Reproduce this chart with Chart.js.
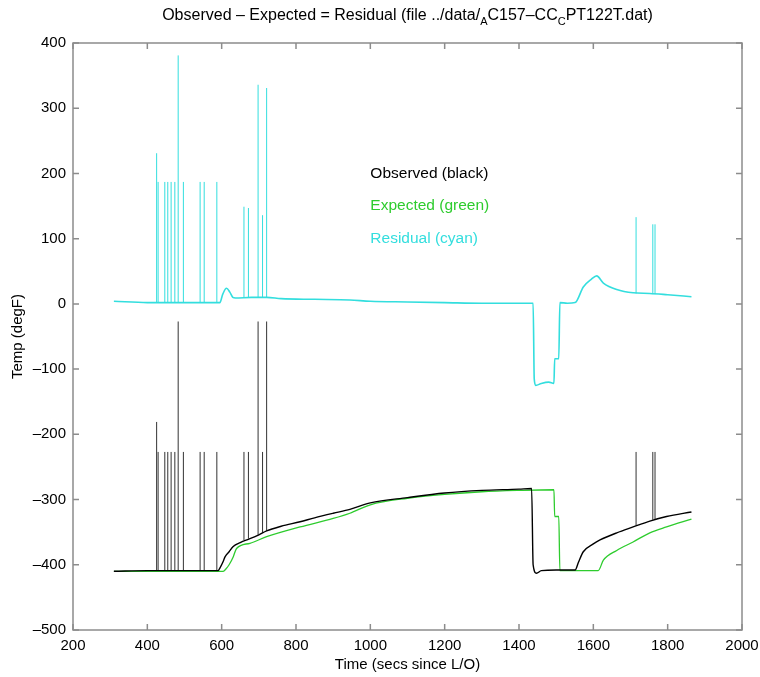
<!DOCTYPE html>
<html lang="en">
<head>
<meta charset="UTF-8">
<title>Observed - Expected = Residual</title>
<style>
  body { margin:0; padding:0; background:#fff; }
  #wrap { width:760px; height:677px; }
</style>
</head>
<body>
<div id="wrap"><canvas id="chart" width="760" height="677"></canvas></div>

<script src="https://cdn.jsdelivr.net/npm/chart.js"></script>
<script>
// observed temperature (black)
const obsTime = [310, 400, 500, 590, 598, 604, 609, 620, 631, 650, 676, 700, 721, 760, 811, 850, 900, 945, 1000, 1100, 1200, 1300, 1400, 1434, 1438, 1447, 1460, 1500, 1551, 1560, 1573, 1600, 1618, 1663, 1707, 1752, 1797, 1864];
const obsTemp = [-410, -409, -409, -409, -402, -395, -388, -380, -372, -366, -360, -354, -348, -341, -334, -328, -321, -315, -305, -297, -290, -286, -284, -283, -400, -413, -409, -408, -408, -396, -380, -368, -362, -351, -342, -333, -326, -319];

// expected temperature (green)
const expTime = [310, 500, 604, 612, 620, 631, 640, 676, 721, 811, 900, 945, 1000, 1100, 1200, 1300, 1400, 1494, 1496, 1507, 1510, 1520, 1613, 1627, 1663, 1707, 1752, 1797, 1864];
const expTemp = [-410, -410, -410, -406, -400, -388, -375, -367, -357, -342, -329, -321, -308, -298, -292, -288, -286, -285, -326, -326, -409, -409, -409, -393, -378, -365, -351, -342, -330];

// residual (cyan)
const resTime = [310, 400, 500, 595, 603, 613, 622, 630, 637, 680, 721, 760, 850, 945, 1000, 1100, 1200, 1300, 1400, 1438, 1441, 1445, 1460, 1480, 1494, 1496, 1507, 1510, 1530, 1551, 1573, 1595, 1609, 1627, 1663, 1707, 1752, 1800, 1864];
const resVal  = [4, 2, 2, 2, 15, 24, 18, 10, 9, 10, 10, 8, 7, 6, 4, 3, 2, 1, 1, 1, -115, -125, -122, -120, -122, -84, -84, 2, 1, 2, 26, 38, 43, 32, 22, 17, 16, 14, 11];

// dropout spikes
const spikeTime  = [425, 429, 447, 455, 464, 474, 483, 497, 542, 553, 587, 660, 672, 698, 710, 721, 1715, 1760, 1766];
const obsSpikeLo = [-409, -409, -409, -409, -409, -409, -409, -409, -409, -409, -409, -362, -360, -354, -351, -348, -340, -331, -330];
const obsSpikeHi = [-181, -227, -227, -227, -227, -227, -27, -227, -227, -227, -227, -227, -227, -27, -227, -27, -227, -227, -227];
const resSpikeLo = [2, 2, 2, 2, 2, 2, 2, 2, 2, 2, 2, 10, 10, 10, 10, 10, 16, 15, 15];
const resSpikeHi = [231, 187, 187, 187, 187, 187, 381, 187, 187, 187, 187, 149, 147, 336, 136, 331, 133, 122, 122];

const xTicks = [200, 400, 600, 800, 1000, 1200, 1400, 1600, 1800, 2000];
const yTicks = [-500, -400, -300, -200, -100, 0, 100, 200, 300, 400];

const legendLines = [
  { text: 'Observed (black)', color: '#000000', y: 200 },
  { text: 'Expected (green)', color: '#2ecc2e', y: 150 },
  { text: 'Residual (cyan)',  color: '#33dede', y: 100 }
];

const FONT = "'Liberation Sans', Arial, sans-serif";
const CYAN = '#33dede', GREEN = '#2ecc2e';

function pts(xs, ys) { return xs.map((x, i) => ({ x: x, y: ys[i] })); }
function spikes(xs, lo, hi) {
  const out = [];
  xs.forEach((x, i) => {
    out.push({ x: x, y: lo[i] }, { x: x, y: hi[i] }, { x: x, y: null });
  });
  return out;
}

// box, inward ticks on all four sides, title with subscripts, text legend
const decor = {
  id: 'decor',
  afterDraw(chart) {
    const ctx = chart.ctx, a = chart.chartArea;
    const xs = chart.scales.x, ys = chart.scales.y;
    ctx.save();
    ctx.strokeStyle = '#8c8c8c';
    ctx.lineWidth = 1.5;
    ctx.strokeRect(a.left, a.top, a.right - a.left, a.bottom - a.top);
    ctx.beginPath();
    const tl = 6;
    xTicks.forEach(v => {
      const p = xs.getPixelForValue(v);
      ctx.moveTo(p, a.bottom); ctx.lineTo(p, a.bottom - tl);
      ctx.moveTo(p, a.top); ctx.lineTo(p, a.top + tl);
    });
    yTicks.forEach(v => {
      const p = ys.getPixelForValue(v);
      ctx.moveTo(a.left, p); ctx.lineTo(a.left + tl, p);
      ctx.moveTo(a.right, p); ctx.lineTo(a.right - tl, p);
    });
    ctx.stroke();

    // legend-like text inside the axes
    ctx.font = '15.5px ' + FONT;
    ctx.textAlign = 'left';
    ctx.textBaseline = 'middle';
    legendLines.forEach(l => {
      ctx.fillStyle = l.color;
      ctx.fillText(l.text, xs.getPixelForValue(1000), ys.getPixelForValue(l.y));
    });

    // title with subscripts
    const parts = [
      ['Observed \u2013 Expected = Residual (file ../data/', false],
      ['A', true],
      ['C157\u2013CC', false],
      ['C', true],
      ['PT122T.dat)', false]
    ];
    const big = '16px ' + FONT, small = '11px ' + FONT;
    let w = 0;
    parts.forEach(p => { ctx.font = p[1] ? small : big; w += ctx.measureText(p[0]).width; });
    let x = (a.left + a.right) / 2 - w / 2;
    const base = 20;
    ctx.fillStyle = '#000';
    ctx.textBaseline = 'alphabetic';
    parts.forEach(p => {
      ctx.font = p[1] ? small : big;
      ctx.fillText(p[0], x, p[1] ? base + 5 : base);
      x += ctx.measureText(p[0]).width;
    });
    ctx.restore();
  }
};

new Chart(document.getElementById('chart'), {
  type: 'line',
  data: {
    datasets: [
      { label: 'Observed', data: pts(obsTime, obsTemp), borderColor: '#000', borderWidth: 1.4, pointRadius: 0, cubicInterpolationMode: 'monotone' },
      { label: 'Observed spikes', data: spikes(spikeTime, obsSpikeLo, obsSpikeHi), borderColor: '#333', borderWidth: 1, pointRadius: 0, spanGaps: false },
      { label: 'Expected', data: pts(expTime, expTemp), borderColor: GREEN, borderWidth: 1.3, pointRadius: 0, cubicInterpolationMode: 'monotone' },
      { label: 'Residual', data: pts(resTime, resVal), borderColor: CYAN, borderWidth: 1.6, pointRadius: 0, cubicInterpolationMode: 'monotone' },
      { label: 'Residual spikes', data: spikes(spikeTime, resSpikeLo, resSpikeHi), borderColor: CYAN, borderWidth: 1, pointRadius: 0, spanGaps: false }
    ]
  },
  options: {
    responsive: false,
    animation: false,
    devicePixelRatio: 1,
    layout: { padding: { top: 43, right: 18, left: 0, bottom: 0 } },
    plugins: { legend: { display: false }, tooltip: { enabled: false }, title: { display: false } },
    scales: {
      x: {
        type: 'linear', min: 200, max: 2000,
        afterBuildTicks: s => { s.ticks = xTicks.map(v => ({ value: v })); },
        afterFit: s => { s.height = 47; s.paddingLeft = 0; s.paddingRight = 0; },
        grid: { display: false, drawTicks: false }, border: { display: false },
        ticks: { color: '#000', font: { family: FONT, size: 15 }, padding: 7, maxRotation: 0,
                 callback: v => String(v) },
        title: { display: true, text: 'Time (secs since L/O)', color: '#000', font: { family: FONT, size: 15 }, padding: { top: 0, bottom: 3 } }
      },
      y: {
        type: 'linear', min: -500, max: 400,
        afterBuildTicks: s => { s.ticks = yTicks.map(v => ({ value: v })); },
        afterFit: s => { s.width = 73; s.paddingTop = 0; s.paddingBottom = 0; },
        grid: { display: false, drawTicks: false }, border: { display: false },
        ticks: { color: '#000', font: { family: FONT, size: 15 }, padding: 7,
                 callback: v => String(v).replace('-', '\u2013') },
        title: { display: true, text: 'Temp (degF)', color: '#000', font: { family: FONT, size: 15 }, padding: { top: 9, bottom: 0 } }
      }
    }
  },
  plugins: [decor]
});
</script>
</body>
</html>
